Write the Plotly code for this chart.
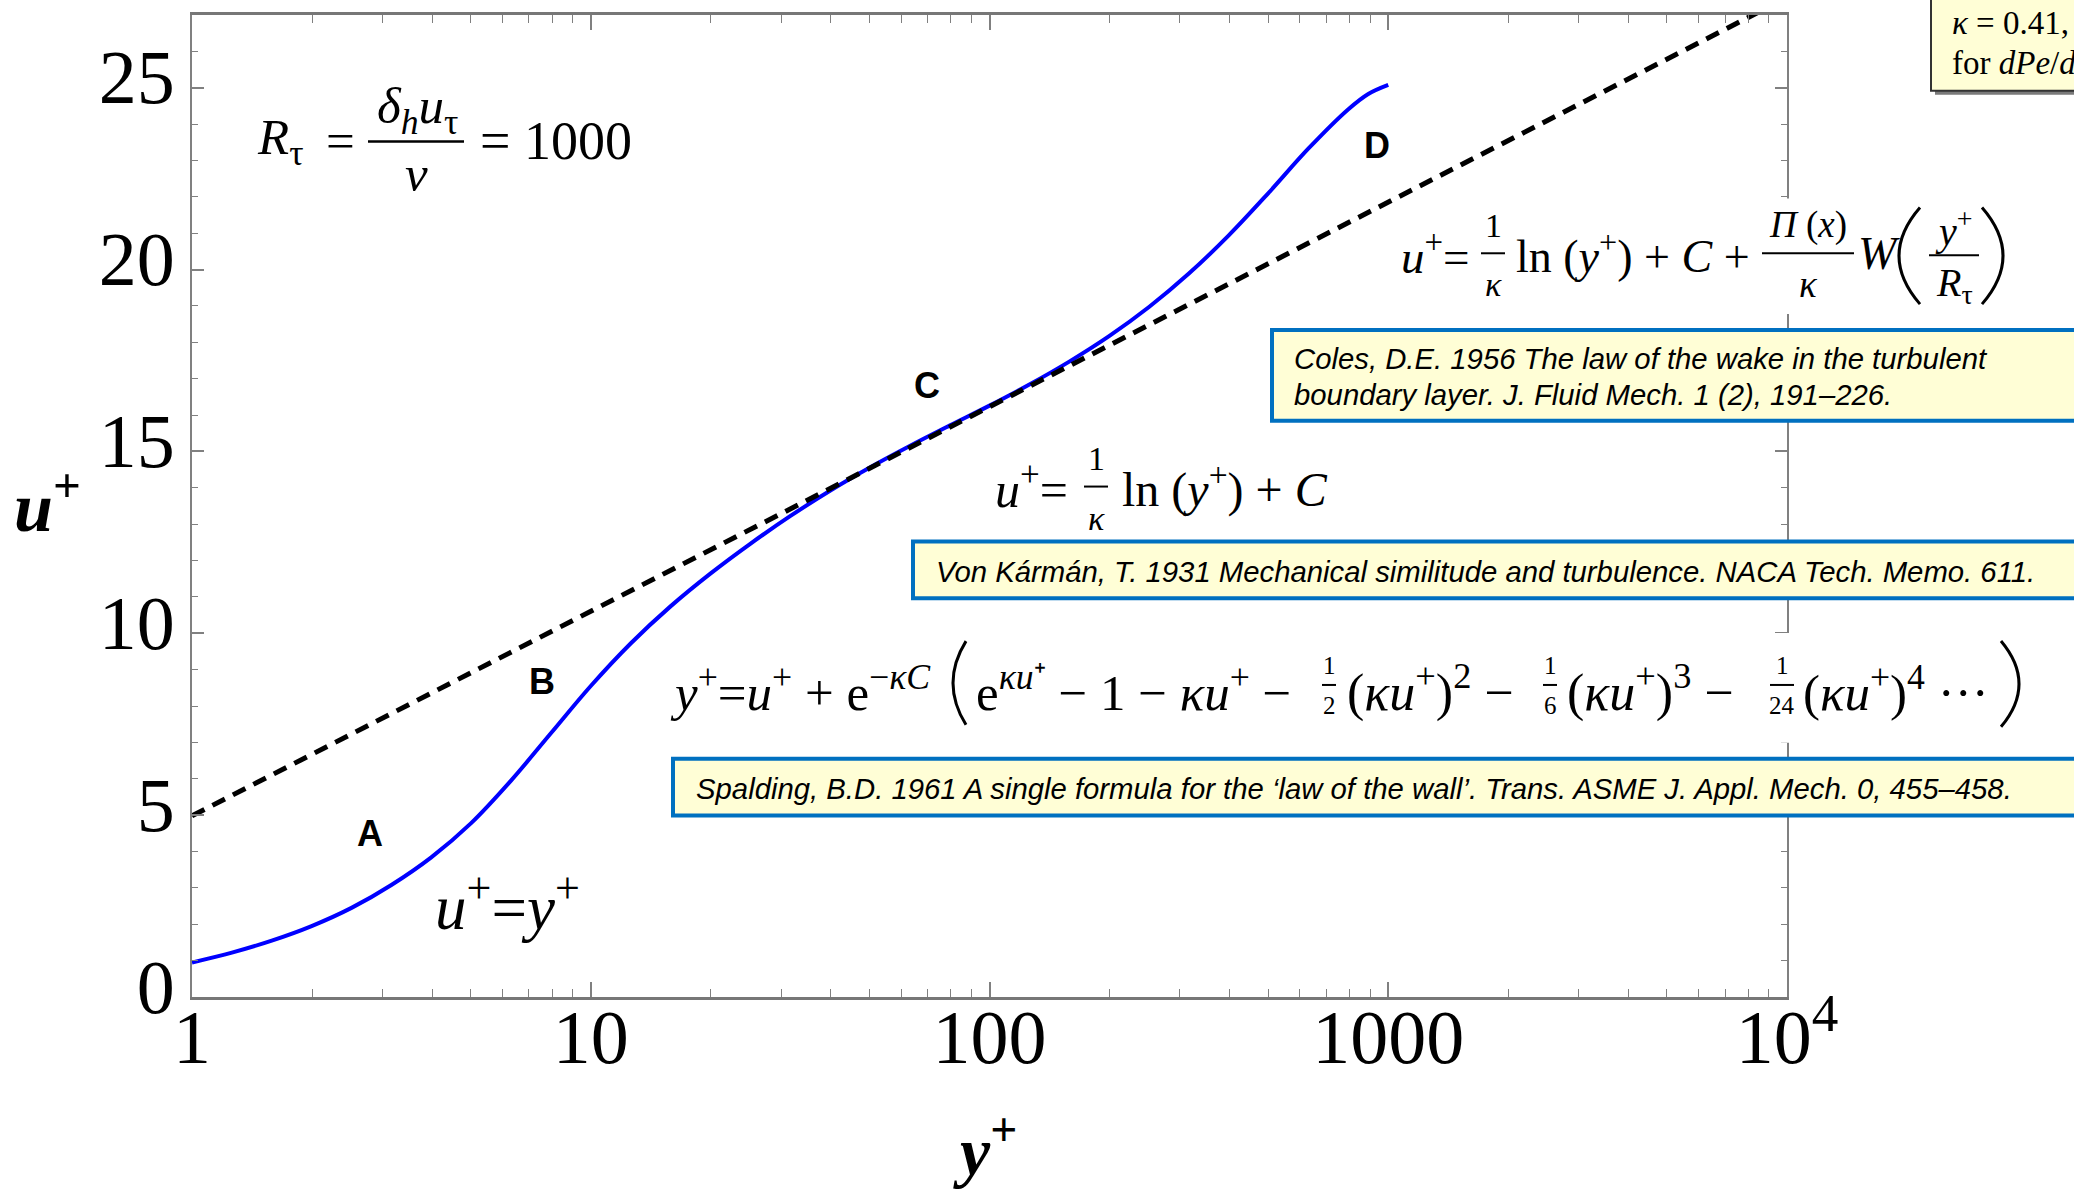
import plotly.graph_objects as go

# ---------------- data ----------------
Y_PLUS = [1.0, 1.259, 1.585, 1.995, 2.512, 3.162, 3.981, 5.012, 6.310, 7.943,
          10.0, 12.59, 15.85, 19.95, 25.12, 31.62, 39.81, 50.12, 63.1, 79.4,
          100, 125.9, 158.5, 199.5, 251.2, 316.2, 398.1, 501.2, 631, 794.3, 891, 1000]
U_PLUS = [0.95, 1.22, 1.55, 1.95, 2.45, 3.08, 3.84, 4.78, 5.95, 7.25,
          8.55, 9.72, 10.74, 11.64, 12.46, 13.22, 13.92, 14.56, 15.15, 15.71,
          16.26, 16.84, 17.47, 18.17, 18.97, 19.89, 20.94, 22.11, 23.33, 24.41, 24.83, 25.08]

LOGLAW_Y = [1, 10000]
LOGLAW_U = [4.98, 27.48]

X_TICKS = [1, 10, 100, 1000, 10000]
X_TICKTEXT = ["1", "10", "100", "1000", "10<sup>4</sup>"]
Y_TICKS = [0, 5, 10, 15, 20, 25]
MINOR_MULT = [2, 3, 4, 5, 6, 7, 8, 9]

CITE_COLES = ["Coles, D.E. 1956 The law of the wake in the turbulent",
              "boundary layer. J. Fluid Mech. 1 (2), 191–226."]
CITE_KARMAN = "Von Kármán, T. 1931 Mechanical similitude and turbulence. NACA Tech. Memo. 611."
CITE_SPALDING = "Spalding, B.D. 1961 A single formula for the ‘law of the wall’. Trans. ASME J. Appl. Mech. 0, 455–458."

# ---------------- layout geometry ----------------
W, H = 2074, 1197
L, R, T, B = 192, 1787, 12, 997
SERIF = "Liberation Serif, Times New Roman, serif"
SANS = "Liberation Sans, Arial, sans-serif"
AXC = "#808080"


def px(x):
    return (x - L) / (R - L)


def py(y):
    return (B - y) / (B - T)


ann = []
shapes = []


def txt(x, y, s, size, xanchor="left", family=SERIF, color="black"):
    ann.append(dict(x=px(x), y=py(y), xref="paper", yref="paper", text=s,
                    showarrow=False, xanchor=xanchor, yanchor="middle",
                    font=dict(family=family, size=size, color=color)))


def hline(x0, x1, y, w=2, color="black"):
    shapes.append(dict(type="line", xref="paper", yref="paper", x0=px(x0), x1=px(x1),
                       y0=py(y), y1=py(y), line=dict(color=color, width=w), layer="above"))


def rect(x0, y0, x1, y1, fill, lc=None, lw=0):
    shapes.append(dict(type="rect", xref="paper", yref="paper", x0=px(x0), x1=px(x1),
                       y0=py(y1), y1=py(y0), fillcolor=fill,
                       line=dict(color=lc if lc else fill, width=lw), layer="above"))


def paren(x_end, x_mid, y0, y1, w=2.5):
    xc = 2 * x_mid - x_end
    yc = (y0 + y1) / 2
    path = f"M {px(x_end)},{py(y0)} Q {px(xc)},{py(yc)} {px(x_end)},{py(y1)}"
    shapes.append(dict(type="path", xref="paper", yref="paper", path=path,
                       line=dict(color="black", width=w), layer="above"))


def frac(xc, y_bar, num, den, size, half_w, y_num_off=-27, y_den_off=31):
    txt(xc, y_bar + y_num_off, num, size, "center")
    hline(xc - half_w, xc + half_w, y_bar, 2)
    txt(xc, y_bar + y_den_off, den, size, "center")


fig = go.Figure()
fig.add_trace(go.Scatter(x=Y_PLUS, y=U_PLUS, mode="lines",
                         line=dict(color="#0000ff", width=4, shape="spline", smoothing=1.0),
                         showlegend=False, hoverinfo="skip"))
fig.add_trace(go.Scatter(x=LOGLAW_Y, y=LOGLAW_U, mode="lines",
                         line=dict(color="black", width=5, dash="14px,9px"),
                         showlegend=False, hoverinfo="skip"))

# ---------------- white backgrounds of formulas (cover frame) ----------------
rect(1440, 196, 2030, 312, "white")
rect(700, 632, 2030, 742, "white")

# ---------------- citation boxes ----------------
BOXFILL = "#FFFED6"
BLUE = "#0070C0"
CS = 29.3
rect(1272, 328, 2100, 419, BOXFILL, BLUE, 4)
rect(913, 540, 2100, 597, BOXFILL, BLUE, 4)
rect(673, 758, 2100, 815, BOXFILL, BLUE, 4)
txt(1292, 357, "<i>" + CITE_COLES[0] + "</i>", CS, family=SANS)
txt(1292, 393, "<i>" + CITE_COLES[1] + "</i>", CS, family=SANS)
txt(934, 570, "<i>" + CITE_KARMAN + "</i>", CS, family=SANS)
txt(694, 788, "<i>" + CITE_SPALDING + "</i>", CS, family=SANS)

# top-right parameter box (cut by the page edge)
rect(1935, -6, 2100, 92, "#7a7a7a")
rect(1931, -10, 2100, 88, "#FFFED6", "#333333", 2)
txt(1950, 20, "<i>κ</i> = 0.41,", 33)
txt(1950, 60, "for <i>dPe</i>/<i>dx</i>", 33)

# ---------------- R_tau ----------------
txt(255, 138, "<i>R</i><sub>τ</sub>", 51)
txt(340, 138, "=", 51, "center")
txt(417, 107, "<i>δ</i><sub><i>h</i></sub><i>u</i><sub>τ</sub>", 51, "center")
hline(368, 464, 139, 2.5)
txt(416, 171, "<i>ν</i>", 51, "center")
txt(478, 138, "= 1000", 54)

# ---------------- region letters ----------------
for lab, x, y in [("A", 370, 833), ("B", 542, 681), ("C", 927, 384), ("D", 1377, 143)]:
    txt(x, y, "<b>" + lab + "</b>", 36, "center", family=SANS)

# ---------------- viscous sublayer ----------------
txt(507, 903, "<i>u</i><sup>+</sup>=<i>y</i><sup>+</sup>", 63, "center")

# ---------------- log law ----------------
txt(993, 485, "<i>u</i><sup>+</sup>=", 50)
frac(1096, 485, "1", "<i>κ</i>", 34, 12, -28, 32)
txt(1120, 485, "ln (<i>y</i><sup>+</sup>) + <i>C</i>", 48)

# ---------------- Coles ----------------
txt(1399, 251, "<i>u</i><sup>+</sup>=", 47)
frac(1493, 251, "1", "<i>κ</i>", 34, 12, -28, 31)
txt(1514, 251, "ln (<i>y</i><sup>+</sup>) + <i>C</i> +", 46)
frac(1808, 251, "<i>Π</i> (<i>x</i>)", "<i>κ</i>", 37, 46, -28, 31)
txt(1856, 251, "<i>W</i>", 46)
paren(1920, 1899, 205, 302, 3)
frac(1954, 253, "<i>y</i><sup>+</sup>", "<i>R</i><sub>τ</sub>", 40, 25, -27, 30)
paren(1982, 2003, 205, 302, 3)

# ---------------- Spalding ----------------
txt(668, 688, "<i>y</i><sup>+</sup>=<i>u</i><sup>+</sup> + e<sup>−<i>κC</i></sup>", 51)
paren(966, 953, 640, 724, 3)
txt(974, 688, "e<sup><i>κu</i>⁺</sup> − 1 − <i>κu</i><sup>+</sup> −", 51)
frac(1329, 684, "1", "2", 25, 7, -20, 21)
txt(1345, 688, "(<i>κu</i><sup>+</sup>)<sup>2</sup> −", 52)
frac(1550, 684, "1", "6", 25, 7, -20, 21)
txt(1565, 688, "(<i>κu</i><sup>+</sup>)<sup>3</sup> −", 52)
frac(1782, 684, "1", "24", 25, 12, -20, 21)
txt(1801, 688, "(<i>κu</i><sup>+</sup>)<sup>4</sup> ···", 51)
paren(2001, 2019, 640, 726, 3)

# ---------------- axis titles ----------------
txt(47, 500, "<b><i>u</i></b><sup><b>+</b></sup>", 70, "center")
txt(985, 1147, "<b><i>y</i></b><sup><b>+</b></sup>", 68, "center")

minor_x = [m * 10 ** k for k in range(4) for m in MINOR_MULT]

fig.update_layout(
    width=W, height=H, autosize=False,
    margin=dict(l=L, r=W - R, t=T, b=H - B, pad=0),
    paper_bgcolor="white", plot_bgcolor="white",
    showlegend=False,
    annotations=ann, shapes=shapes,
    xaxis=dict(type="log", range=[0, 4], showgrid=False, zeroline=False,
               showline=True, linecolor="#777777", linewidth=2.5, mirror="ticks",
               ticks="inside", ticklen=15, tickwidth=1.5, tickcolor=AXC,
               tickmode="array", tickvals=X_TICKS, ticktext=X_TICKTEXT,
               ticklabelstandoff=-28,
               tickfont=dict(family=SERIF, size=76, color="black"),
               minor=dict(ticks="inside", ticklen=8, tickwidth=1.2, tickcolor=AXC,
                          tickmode="array", tickvals=minor_x, showgrid=False)),
    yaxis=dict(range=[0, 27], showgrid=False, zeroline=False,
               showline=True, linecolor=AXC, linewidth=2, mirror="ticks",
               ticks="inside", ticklen=12, tickwidth=1.5, tickcolor=AXC,
               tickmode="array", tickvals=Y_TICKS, ticklabelshift=-11,
               tickfont=dict(family=SERIF, size=76, color="black"),
               minor=dict(ticks="inside", ticklen=6, tickwidth=1.2, tickcolor=AXC,
                          dtick=1, showgrid=False)),
)

fig.write_html("out.html")
